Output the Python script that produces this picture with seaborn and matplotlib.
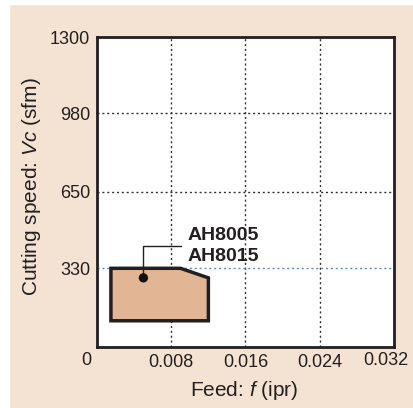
import numpy as np
import pandas as pd
import seaborn as sns
from matplotlib import pyplot as plt
from matplotlib.patches import Rectangle

# application range polygon (feed in ipr, speed in sfm)
feed = [0.0015, 0.009, 0.012, 0.012, 0.0015]
speed = [330, 330, 290, 110, 110]
dot_feed = [0.005]
dot_speed = [290]
grades = ["AH8005", "AH8015"]

x_ticks = [0.008, 0.016, 0.024, 0.032]
x_labels = ["0.008", "0.016", "0.024", ""]
y_ticks = [330, 650, 980, 1300]
y_labels = ["330", "650", "980", "1300"]

sns.set_theme(style="white")
plt.rcParams["font.family"] = ["Liberation Sans", "DejaVu Sans"]
plt.rcParams["mathtext.fontset"] = "custom"
plt.rcParams["mathtext.it"] = "Liberation Sans:italic"
plt.rcParams["mathtext.rm"] = "Liberation Sans"

ink = "#231f20"
beige = "#f4e3d3"
fig = plt.figure(figsize=(4.14, 4.08), dpi=100, facecolor=beige)
# white strips at the top and left edge of the cropped panel
fig.patches.append(Rectangle((0, 0), 9 / 414, 1, transform=fig.transFigure, color="white", zorder=0))
fig.patches.append(Rectangle((0, 1 - 4 / 408), 1, 4 / 408, transform=fig.transFigure, color="white", zorder=0))

ax = fig.add_axes([97 / 414, 1 - 347 / 408, 297 / 414, 310 / 408])
ax.set_facecolor("white")
ax.set_xlim(0, 0.032)
ax.set_ylim(0, 1300)

# grid lines
for xv in x_ticks[:-1]:
    ax.axvline(xv, color="#333333", lw=1, ls=(0, (1.5, 2)), zorder=1)
for yv in [650, 980]:
    ax.axhline(yv, color="#333333", lw=1, ls=(0, (1.5, 2)), zorder=1)
ax.axhline(330, color="#5b8ec0", lw=1, ls=(0, (1.5, 2)), zorder=1)

ax.fill(feed, speed, facecolor="#e2b595", edgecolor=ink, lw=2.5, zorder=3, joinstyle="miter")
df = pd.DataFrame({"feed": dot_feed, "speed": dot_speed})
sns.scatterplot(data=df, x="feed", y="speed", color="#111111", s=45, zorder=5, ax=ax, edgecolor="none")
ax.set_xlabel("")
ax.set_ylabel("")

# leader line to grade labels
ax.plot([dot_feed[0], dot_feed[0], 0.0090], [dot_speed[0], 425, 425], color=ink, lw=1, zorder=4)
ax.text(0.0097, 467, grades[0], fontsize=14, fontweight="bold", color=ink, va="center", ha="left")
ax.text(0.0097, 380, grades[1], fontsize=14, fontweight="bold", color=ink, va="center", ha="left")

ax.set_xticks(x_ticks)
ax.set_xticklabels(x_labels)
ax.set_yticks(y_ticks)
ax.set_yticklabels(y_labels)
ax.tick_params(axis="both", length=0, labelsize=13, colors=ink, pad=5)
# shared origin label and the last label pulled in from the edge
ax.text(-0.0011, -20, "0", fontsize=13, color=ink, ha="center", va="top")
ax.text(0.0335, -20, "0.032", fontsize=13, color=ink, ha="right", va="top", clip_on=False)

for sp in ax.spines.values():
    sp.set_visible(True)
    sp.set_color(ink)
    sp.set_linewidth(2)

fig.text(244 / 414, 1 - 390 / 408, "Feed: $\\mathit{f}$ (ipr)", fontsize=15, color=ink, ha="center", va="center")
fig.text(32 / 414, 1 - 187 / 408, "Cutting speed: $\\mathit{Vc}$ (sfm)", fontsize=15, color=ink,
         ha="center", va="center", rotation=90)

plt.savefig("out.png", dpi=100, facecolor=beige)
